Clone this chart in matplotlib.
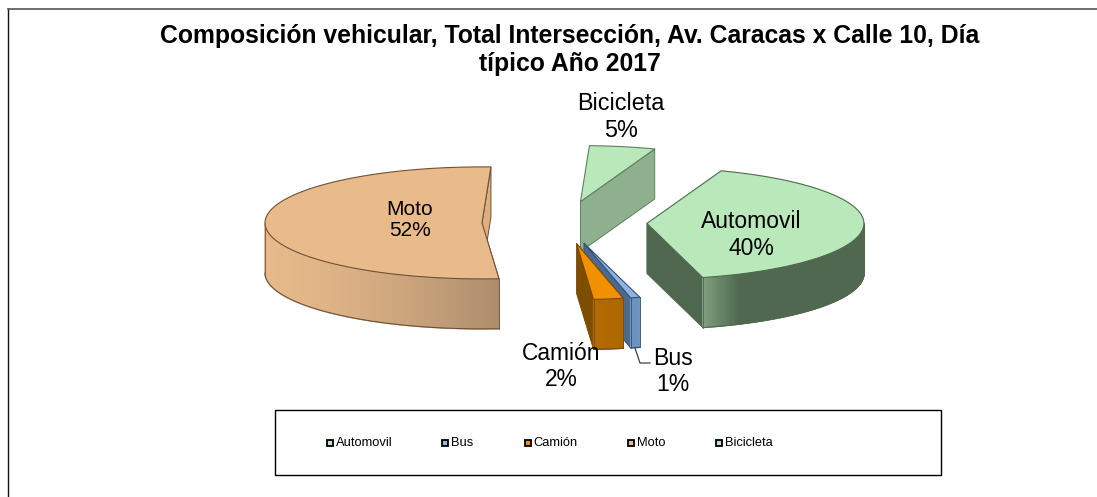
import numpy as np
import matplotlib
matplotlib.use("Agg")
import matplotlib.pyplot as plt
from matplotlib.patches import Polygon, Rectangle
from matplotlib.colors import to_rgb

plt.rcParams['font.family'] = ['Liberation Sans', 'DejaVu Sans']

# ---- data ----
categories = ["Automovil", "Bus", "Camión", "Moto", "Bicicleta"]
values = [40.3, 0.7, 2.2, 51.9, 4.9]
pct_labels = ["40%", "1%", "2%", "52%", "5%"]
title = "Composición vehicular, Total Intersección, Av. Caracas x Calle 10, Día\ntípico Año 2017"

# ---- styles ----
top_colors = ["#B9E8BB", "#8DB4E2", "#F29100", "#E9BA8A", "#B9E8BB"]
edge_colors = ["#4F6A4F", "#34506F", "#7A4A00", "#6E5238", "#5F7F5F"]
cut_colors = ["#4F674F", "#4A6A90", "#7E4E00", "#DDB07F", "#8FB08F"]
arc_left = {"Automovil": "#7F9F7F", "Bus": "#6D94BE", "Camión": "#B06A00", "Moto": "#E6B98A"}
arc_right = {"Automovil": "#50684F", "Bus": "#6D94BE", "Camión": "#AE6800", "Moto": "#AC8C6C"}
label_font = {"Automovil": 16.5, "Bus": 16.6, "Camión": 16.4, "Moto": 15, "Bicicleta": 16.8}
label_pos = {"Automovil": (751, 235), "Bus": (673, 371.5), "Camión": (561, 366.5),
             "Moto": (410, 220), "Bicicleta": (621, 117)}

# ---- pie geometry (pixels) ----
CX, CY, RX, RY, DEPTH, EXPLODE = 564.5, 222.5, 217, 56, 50, 82.5
START_ANGLE = 70.0

fig = plt.figure(figsize=(10.97, 4.97), dpi=100)
ax = fig.add_axes([0, 0, 1, 1])
ax.set_xlim(0, 1097)
ax.set_ylim(497, 0)
ax.axis("off")


def ell(center, deg):
    a = np.radians(deg)
    return np.column_stack([center[0] + RX * np.cos(a), center[1] - RY * np.sin(a)])


fractions = np.array(values) / np.sum(values)
ends = START_ANGLE - np.cumsum(fractions) * 360
starts = ends + fractions * 360

wedges = {}
for name, s, e in zip(categories, starts, ends):
    mid = np.radians((s + e) / 2)
    wedges[name] = (s, e, (CX + EXPLODE * np.cos(mid), CY - EXPLODE * RY / RX * np.sin(mid)))

draw_order = ["Bicicleta", "Moto", "Automovil", "Bus", "Camión"]
for name in draw_order:
    i = categories.index(name)
    s, e, c = wedges[name]
    c = np.array(c)
    down = np.array([0, DEPTH])
    z = 2 + draw_order.index(name)
    # cut faces: a face shows when its outward normal points to the viewer
    for edge_ang, normal in ((s, s + 90), (e, e - 90)):
        if np.sin(np.radians(normal)) < 0 or name == "Moto":
            p = ell(c, edge_ang)[0]
            ax.add_patch(Polygon([c, p, p + down, c + down], closed=True,
                                 fc=cut_colors[i], ec=edge_colors[i], lw=0.7, zorder=z))
    # outer curved face, only its lower half can be seen
    angs = np.linspace(s, e, max(int(abs(s - e) * 2), 2) + 1)
    angs = angs[np.sin(np.radians(angs)) <= 0.001]
    if len(angs) > 1:
        pts = ell(c, angs)
        xs = pts[:, 0]
        left = np.array(to_rgb(arc_left.get(name, cut_colors[i])))
        right = np.array(to_rgb(arc_right.get(name, cut_colors[i])))
        for k in range(len(pts) - 1):
            t = ((xs[k] + xs[k + 1]) / 2 - xs.min()) / max(xs.max() - xs.min(), 1)
            if name == "Automovil":
                col = left + (right - left) * min(t / 0.22, 1)
            else:
                col = left + (right - left) * t ** 1.5
            q = [pts[k], pts[k + 1], pts[k + 1] + down, pts[k] + down]
            ax.add_patch(Polygon(q, closed=True, fc=col, ec=col, lw=1.0, zorder=z))
        ax.plot(pts[:, 0], pts[:, 1] + DEPTH, color=edge_colors[i], lw=0.8, zorder=z + 0.1)
        for x_end in (pts[0], pts[-1]):
            ax.plot([x_end[0], x_end[0]], [x_end[1], x_end[1] + DEPTH], color=edge_colors[i], lw=0.6, zorder=z + 0.1)
    # top surface
    rim = ell(c, np.linspace(s, e, max(int(abs(s - e)) * 2, 2) + 1))
    ax.add_patch(Polygon(np.vstack([c, rim]), closed=True, fc=top_colors[i], ec=edge_colors[i], lw=0.8,
                         joinstyle="round", zorder=z + 0.5))

# data labels
for name, pct in zip(categories, pct_labels):
    x, y = label_pos[name]
    ax.text(x, y, f"{name}\n{pct}", ha="center", va="center", fontsize=label_font[name],
            color="black", linespacing=1.18, zorder=20)

# leader line of the Bus label
ax.plot([635, 640, 650], [348, 363, 363], color="#404040", lw=0.9, zorder=19)

# title
ax.text(570, 50, title, ha="center", va="center", fontsize=17.8, fontweight="bold", color="black",
        linespacing=1.2, zorder=20)

# chart frame: only top and left lines are seen in the picture
ax.plot([7.5, 7.5], [497, 8.5], color="#111111", lw=1.0, zorder=21)
ax.plot([7.5, 1097], [8.5, 8.5], color="#555555", lw=1.2, zorder=21)

# legend box
ax.add_patch(Rectangle((275, 410), 666, 65, fc="white", ec="black", lw=1.0, zorder=21))
legend_x = [326, 441, 524, 627, 715]
for x, name, col in zip(legend_x, categories, top_colors):
    ax.add_patch(Rectangle((x + 0.5, 440), 6, 6, fc=col, ec="black", lw=1.3, zorder=22))
    ax.text(x + 9.5, 443, name, ha="left", va="center", fontsize=9.3, color="black", zorder=22)

fig.savefig("out.png", dpi=100, facecolor="white")
